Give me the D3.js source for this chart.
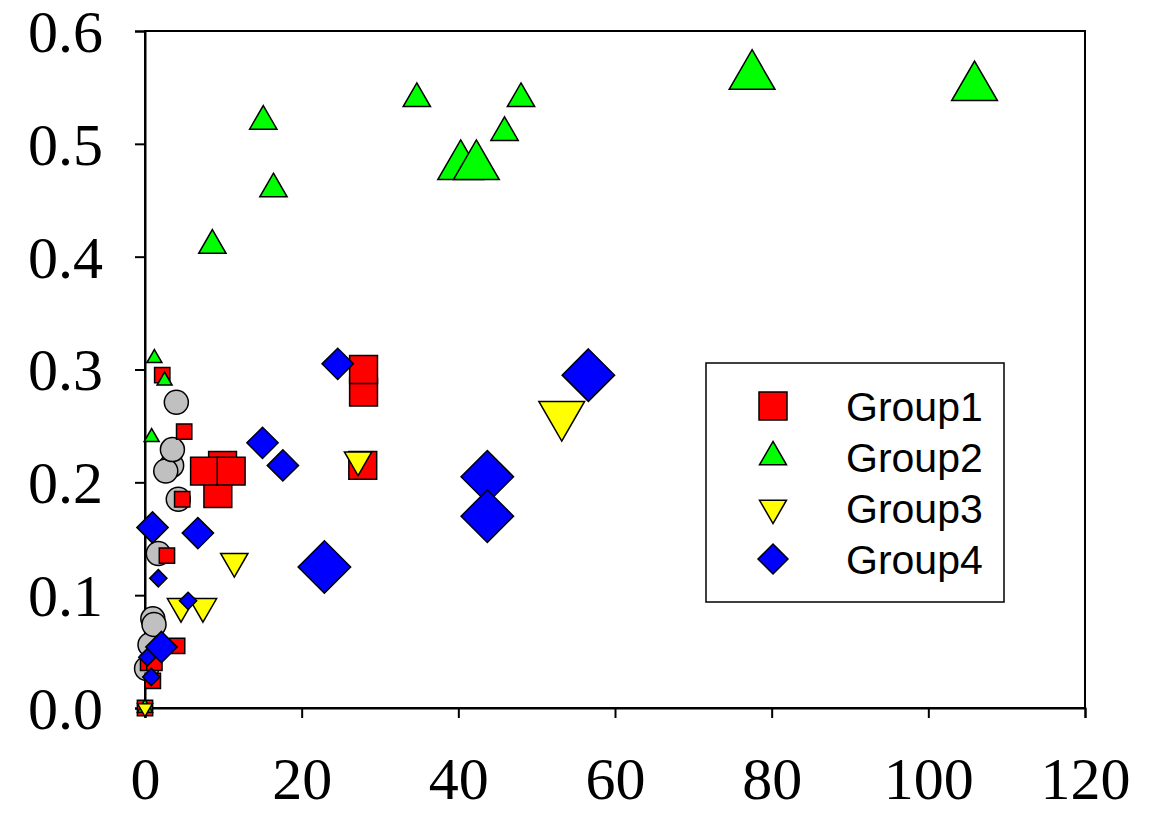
<!DOCTYPE html>
<html>
<head>
<meta charset="utf-8">
<script src="https://cdn.jsdelivr.net/npm/d3@7"></script>
<style>
  html, body { margin: 0; padding: 0; background: #fff; }
  svg { display: block; }
</style>
</head>
<body>
<svg id="chart" width="1157" height="817"></svg>
<script>
// ---- data: [x, y, weight] per point ----
const group1 = [ // squares
  [0, 0, 1], [0.4, 0.04, 1], [1.2, 0.04, 1], [1.0, 0.024, 1], [4.1, 0.055, 1],
  [2.8, 0.135, 1], [4.75, 0.185, 1], [5.0, 0.245, 1], [2.2, 0.295, 1],
  [9.9, 0.215, 2], [9.3, 0.19, 2], [7.6, 0.21, 2], [11.0, 0.21, 2],
  [27.8, 0.215, 2], [27.9, 0.28, 2], [27.9, 0.30, 2]
];
const group2 = [ // up triangles
  [0, 0, 1], [0.85, 0.24, 1], [1.2, 0.31, 1], [2.5, 0.29, 1],
  [8.6, 0.41, 2], [15.1, 0.52, 2], [16.4, 0.46, 2], [34.7, 0.54, 2],
  [40.3, 0.48, 3], [42.3, 0.48, 3], [45.9, 0.51, 2], [48.0, 0.54, 2],
  [77.5, 0.56, 3], [105.9, 0.55, 3]
];
const group3 = [ // down triangles
  [0, 0, 1], [4.6, 0.09, 2], [7.4, 0.09, 2], [11.4, 0.13, 2],
  [27.2, 0.22, 2], [53.2, 0.26, 3]
];
const group4 = [ // diamonds
  [0.3, 0.045, 1], [0.8, 0.0275, 1], [2.1, 0.054, 2], [1.7, 0.115, 1],
  [0.96, 0.16, 2], [5.5, 0.095, 1], [6.75, 0.155, 2], [15.0, 0.235, 2],
  [17.6, 0.215, 2], [24.6, 0.305, 2], [22.9, 0.125, 3], [43.7, 0.205, 3],
  [43.7, 0.17, 3], [56.6, 0.295, 3]
];
const reference = [ // grey circles
  [0.2, 0.035, 2], [0.64, 0.056, 2], [1.0, 0.079, 2], [1.15, 0.074, 2],
  [1.7, 0.137, 2], [4.25, 0.185, 2], [3.4, 0.215, 2], [2.65, 0.21, 2],
  [3.5, 0.229, 2], [4.0, 0.271, 2]
];
const legendLabels = ["Group1", "Group2", "Group3", "Group4"];
const xTicks = [0, 20, 40, 60, 80, 100, 120];
const yTicks = [0.0, 0.1, 0.2, 0.3, 0.4, 0.5, 0.6];

// ---- layout ----
const svg = d3.select("#chart");
const plot = { left: 145, right: 1085, top: 31, bottom: 708 };

const x = d3.scaleLinear().domain([0, 120]).range([plot.left, plot.right]);
const y = d3.scaleLinear().domain([0, 0.6]).range([plot.bottom, plot.top]);
// weight -> size multiplier
const grow = d3.scaleLinear().domain([1, 2, 3]).range([1, 1.82, 3.05]);

// marker outlines centred on the data point
const shapes = {
  square: s => `M${-s/2},${-s/2}H${s/2}V${s/2}H${-s/2}Z`,
  up: s => { const h = s * Math.sqrt(3) / 2;
    return `M0,${-2*h/3}L${s/2},${h/3}L${-s/2},${h/3}Z`; },
  down: s => { const h = s * Math.sqrt(3) / 2;
    return `M0,${2*h/3}L${s/2},${-h/3}L${-s/2},${-h/3}Z`; },
  diamond: d => `M0,${-d/2}L${d/2},0L0,${d/2}L${-d/2},0Z`,
  circle: d => { const r = d / 2;
    return `M${r},0A${r},${r} 0 1,1 ${-r},0A${r},${r} 0 1,1 ${r},0Z`; }
};

const series = [
  { data: reference, shape: "circle",  base: 13.2, fill: "#c0c0c0" },
  { data: group1,    shape: "square",  base: 15.3, fill: "#ff0000" },
  { data: group2,    shape: "up",      base: 15,   fill: "#00ff00" },
  { data: group3,    shape: "down",    base: 15,   fill: "#ffff00" },
  { data: group4,    shape: "diamond", base: 17.2, fill: "#0000ff" }
];

// ---- frame ----
svg.append("rect")
  .attr("x", plot.left).attr("y", plot.top)
  .attr("width", plot.right - plot.left).attr("height", plot.bottom - plot.top)
  .attr("fill", "none").attr("stroke", "#000").attr("stroke-width", 2);

const serif = "'Liberation Serif', 'Times New Roman', serif";

const xAxis = svg.append("g")
  .attr("transform", `translate(0,${plot.bottom})`)
  .call(d3.axisBottom(x).tickValues(xTicks).tickSize(10).tickPadding(34).tickFormat(d3.format("d")));
const yAxis = svg.append("g")
  .attr("transform", `translate(${plot.left},0)`)
  .call(d3.axisLeft(y).tickValues(yTicks).tickSize(10).tickPadding(32).tickFormat(d3.format(".1f")));

[xAxis, yAxis].forEach(g => {
  g.select(".domain").attr("stroke", "#000").attr("stroke-width", 2);
  g.selectAll(".tick line").attr("stroke", "#000").attr("stroke-width", 2);
  g.selectAll(".tick text")
    .attr("fill", "#000")
    .style("font-family", serif)
    .style("font-size", "60px");
});
xAxis.selectAll(".tick text").attr("dy", "0.78em");
yAxis.selectAll(".tick text").attr("dy", "0.34em");

// ---- points ----
series.forEach(s => {
  svg.append("g").selectAll("path")
    .data(s.data)
    .join("path")
    .attr("transform", d => `translate(${x(d[0])},${y(d[1])})`)
    .attr("d", d => shapes[s.shape](s.base * grow(d[2])))
    .attr("fill", s.fill)
    .attr("stroke", "#000")
    .attr("stroke-width", 1.5)
    .attr("stroke-linejoin", "miter");
});

// ---- legend ----
const legend = svg.append("g");
legend.append("rect")
  .attr("x", 706).attr("y", 363).attr("width", 298).attr("height", 239)
  .attr("fill", "#fff").attr("stroke", "#000").attr("stroke-width", 1.5);

const legendItems = [
  { shape: "square",  size: 28, fill: "#ff0000" },
  { shape: "up",      size: 27, fill: "#00ff00" },
  { shape: "down",    size: 27, fill: "#ffff00" },
  { shape: "diamond", size: 30, fill: "#0000ff" }
];
const rowY = d3.scalePoint().domain(legendLabels).range([406, 559]);

legendItems.forEach((it, i) => {
  const ry = rowY(legendLabels[i]);
  legend.append("path")
    .attr("transform", `translate(773,${ry})`)
    .attr("d", shapes[it.shape](it.size))
    .attr("fill", it.fill).attr("stroke", "#000").attr("stroke-width", 1.5);
  legend.append("text")
    .attr("x", 846).attr("y", ry + 15)
    .style("font-family", "'Liberation Sans', Arial, sans-serif")
    .style("font-size", "41px")
    .attr("fill", "#000")
    .text(legendLabels[i]);
});
</script>
</body>
</html>
